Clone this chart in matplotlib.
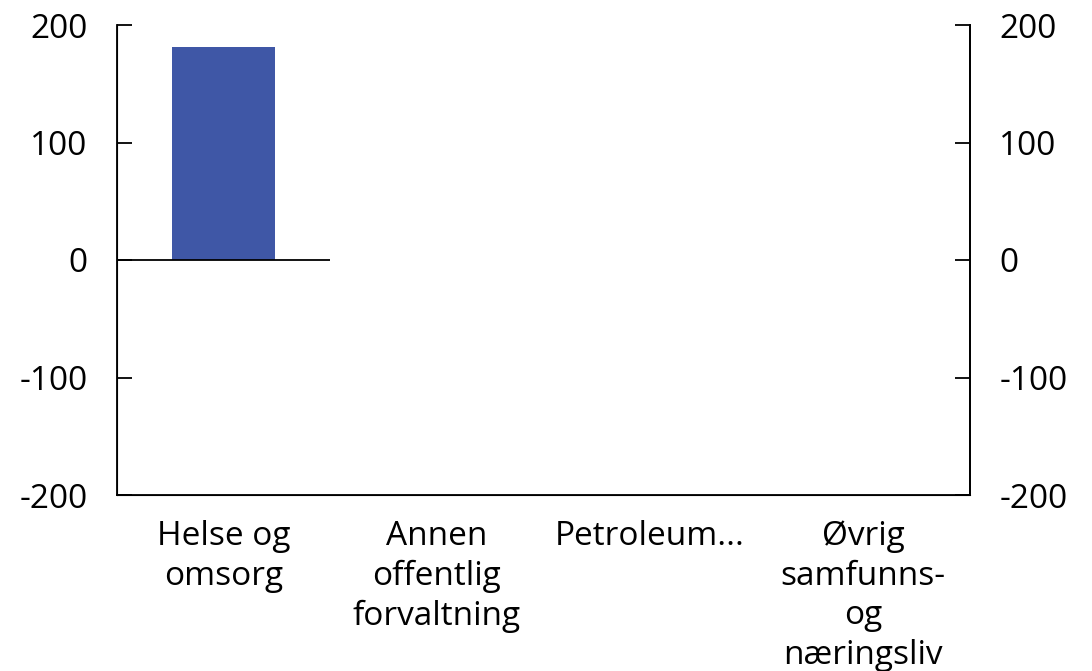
import numpy as np
import matplotlib
matplotlib.use('Agg')
import matplotlib.pyplot as plt

plt.rcParams['font.family'] = ['Open Sans', 'DejaVu Sans']

categories = ['Helse og\nomsorg', 'Annen\noffentlig\nforvaltning', 'Petroleum...',
              'Øvrig\nsamfunns-\nog\nnæringsliv']
values = [181, np.nan, np.nan, np.nan]
yticks = [-200, -100, 0, 100, 200]

fig = plt.figure(figsize=(10.92, 6.71), dpi=100)
ax = fig.add_axes([117/1092, 1 - 495/671, (970-117)/1092, (495-25)/671])

x = np.arange(len(categories))
ax.bar(x, values, width=0.48, color='#3F57A6', zorder=2)
ax.hlines(0, -0.5, 0.5, color='black', lw=1.3, zorder=3)

ax.set_xlim(-0.5, len(categories) - 0.5)
ax.set_ylim(-200, 200)
ax.set_yticks(yticks)
ax.set_yticklabels([str(t) for t in yticks])
ax.set_xticks(x)
ax.set_xticklabels(categories, fontsize=24, linespacing=1.27)
ax.tick_params(axis='x', length=0, pad=18)
ax.tick_params(axis='y', direction='in', length=11, width=1.3, labelsize=24, pad=21)
ax.spines['top'].set_visible(False)
for s in ['left', 'right', 'bottom']:
    ax.spines[s].set_linewidth(1.3)

ax2 = ax.twinx()
ax2.set_ylim(-200, 200)
ax2.set_yticks(yticks)
ax2.set_yticklabels([str(t) for t in yticks])
ax2.tick_params(axis='y', direction='in', length=11, width=1.3, labelsize=24, pad=21)
ax2.spines['top'].set_visible(False)
ax2.spines['right'].set_linewidth(1.3)

fig.savefig('out.png', dpi=100)
